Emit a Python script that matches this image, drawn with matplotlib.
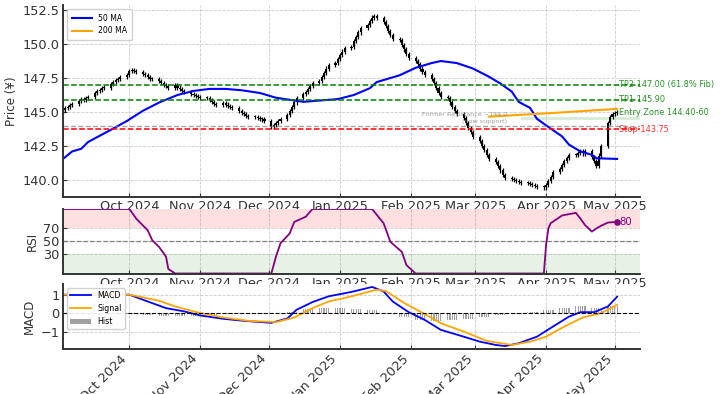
import matplotlib
matplotlib.use("Agg")
import matplotlib.pyplot as plt
import matplotlib.dates as mdates
import numpy as np
import pandas as pd

# ---------------------------------------------------------------------------
# Data
# ---------------------------------------------------------------------------
START, END = "2024-09-02", "2025-05-02"
FIRST_OPEN = 145.0

# daily closes, one row per week (Mon..Fri)
CLOSES = [
    145.15, 145.30, 145.35, 145.50, 145.60,
    145.80, 145.95, 145.90, 146.05, 146.10,
    146.40, 146.55, 146.60, 146.75, 146.80,
    147.05, 147.20, 147.35, 147.45, 147.60,
    147.70, 148.00, 148.10, 148.00, 147.95,
    147.80, 147.70, 147.55, 147.45, 147.40,
    147.25, 147.10, 147.00, 146.90, 146.80,
    146.95, 146.80, 146.70, 146.55, 146.45,
    146.35, 146.25, 146.20, 146.10, 146.00,
    146.05, 145.90, 145.75, 145.60, 145.50,
    145.65, 145.55, 145.45, 145.35, 145.30,
    145.10, 144.95, 144.85, 144.70, 144.60,
    144.60, 144.55, 144.50, 144.45, 144.35,
    143.90, 144.05, 144.20, 144.35, 144.50,
    144.80, 145.10, 145.40, 145.70, 146.00,
    146.30, 146.50, 146.70, 146.90, 147.10,
    147.30, 147.60, 147.90, 148.20, 148.45,
    148.60, 148.90, 149.20, 149.45, 149.70,
    149.80, 150.20, 150.50, 150.85, 151.15,
    151.40, 151.70, 151.95, 152.05, 151.90,
    151.60, 151.30, 150.95, 150.65, 150.35,
    150.30, 149.95, 149.60, 149.30, 149.00,
    148.75, 148.50, 148.20, 147.95, 147.70,
    147.45, 147.10, 146.75, 146.40, 146.10,
    146.00, 145.70, 145.40, 145.10, 144.85,
    144.55, 144.20, 143.85, 143.50, 143.15,
    142.85, 142.50, 142.20, 141.85, 141.55,
    141.30, 141.00, 140.70, 140.40, 140.15,
    140.05, 140.00, 139.90, 139.85, 139.80,
    139.75, 139.70, 139.60, 139.55, 139.50,
    139.45, 139.60, 139.90, 140.25, 140.60,
    140.80, 141.10, 141.40, 141.65, 141.85,
    141.85, 142.00, 142.10, 141.95, 142.15,
    141.70, 141.40, 141.00, 141.80, 142.50,
    144.20, 144.60, 144.85, 144.95, 145.00,
]
WICK = 0.15

MA50_DATES = ["2024-09-02", "2024-09-06", "2024-09-10", "2024-09-13", "2024-09-18",
              "2024-09-23", "2024-09-30", "2024-10-07", "2024-10-14", "2024-10-22",
              "2024-10-29", "2024-11-05", "2024-11-12", "2024-11-19", "2024-11-27",
              "2024-12-04", "2024-12-16", "2024-12-31", "2025-01-07", "2025-01-14",
              "2025-01-17", "2025-01-27", "2025-02-03", "2025-02-10", "2025-02-14",
              "2025-02-21", "2025-02-28", "2025-03-07", "2025-03-12", "2025-03-17",
              "2025-03-20", "2025-03-25", "2025-03-28", "2025-04-02", "2025-04-08",
              "2025-04-11", "2025-04-16", "2025-04-21", "2025-04-23", "2025-05-02"]
MA50 = [141.55, 142.10, 142.30, 142.80, 143.25,
        143.70, 144.35, 145.10, 145.70, 146.25,
        146.55, 146.70, 146.70, 146.60, 146.40,
        146.05, 145.75, 145.95, 146.25, 146.75,
        147.20, 147.70, 148.25, 148.60, 148.75,
        148.60, 148.20, 147.60, 147.10, 146.50,
        145.75, 145.30, 144.50, 143.90, 143.20,
        142.60, 142.10, 141.85, 141.60, 141.55]

MA200_DATES = ["2025-03-07", "2025-04-04", "2025-05-02"]
MA200 = [144.66, 144.93, 145.23]

TP2, TP1, STOP, FORMER_RES = 147.00, 145.90, 143.75, 144.00
ENTRY_LO, ENTRY_HI = 144.40, 144.60
ENTRY_FROM = "2025-03-21"

RSI_DATES = ["2024-09-02", "2024-10-01", "2024-10-04", "2024-10-09", "2024-10-11",
             "2024-10-14", "2024-10-17", "2024-10-18", "2024-10-21", "2024-12-02",
             "2024-12-04", "2024-12-06", "2024-12-10", "2024-12-12", "2024-12-17",
             "2024-12-20", "2025-01-15", "2025-01-20", "2025-01-23", "2025-01-28",
             "2025-01-30", "2025-02-03", "2025-03-31", "2025-04-01", "2025-04-02",
             "2025-04-03", "2025-04-08", "2025-04-14", "2025-04-16", "2025-04-18",
             "2025-04-21", "2025-04-23", "2025-04-25", "2025-04-28", "2025-05-02"]
RSI = [100, 100, 85, 67, 51.5,
       41, 26, 7, 0, 0,
       26, 47, 62, 80, 88,
       100, 100, 78, 49, 33.5,
       13, 0, 0, 45, 70,
       78, 90, 94, 85, 75,
       65, 70, 74, 79, 80]

MACD_DATES = ["2024-09-02", "2024-10-01", "2024-10-09", "2024-10-17", "2024-10-25",
              "2024-11-01", "2024-11-11", "2024-11-20", "2024-12-02", "2024-12-09",
              "2024-12-13", "2024-12-20", "2024-12-27", "2025-01-06", "2025-01-15",
              "2025-01-20", "2025-01-24", "2025-01-31", "2025-02-07", "2025-02-14",
              "2025-02-24", "2025-03-03", "2025-03-10", "2025-03-14", "2025-03-20",
              "2025-03-28", "2025-04-04", "2025-04-11", "2025-04-16", "2025-04-22",
              "2025-04-28", "2025-05-02"]
MACD = [1.0, 1.0, 0.63, 0.27, 0.09,
        -0.13, -0.31, -0.42, -0.53, -0.29,
        0.18, 0.60, 0.91, 1.15, 1.42,
        1.18, 0.63, 0.05, -0.37, -0.91,
        -1.28, -1.55, -1.73, -1.79, -1.64,
        -1.28, -0.73, -0.19, 0.05, 0.05,
        0.36, 0.89]

SIGNAL_DATES = ["2024-09-02", "2024-10-01", "2024-10-14", "2024-10-21", "2024-10-31",
                "2024-11-11", "2024-11-22", "2024-12-04", "2024-12-12", "2024-12-20",
                "2024-12-27", "2025-01-06", "2025-01-17", "2025-01-21", "2025-01-29",
                "2025-02-07", "2025-02-14", "2025-02-24", "2025-03-06", "2025-03-17",
                "2025-03-25", "2025-04-01", "2025-04-09", "2025-04-17", "2025-04-25",
                "2025-05-02"]
SIGNAL = [1.0, 1.0, 0.67, 0.36, 0.03,
          -0.24, -0.42, -0.49, -0.24, 0.27,
          0.63, 0.91, 1.27, 1.20, 0.55,
          -0.05, -0.55, -1.0, -1.51, -1.73,
          -1.55, -1.28, -0.73, -0.24, 0.0,
          0.45]

# histogram, one value per week
HIST_WEEKLY = [0.0, 0.0, 0.0, -0.01, -0.03,
               -0.08, -0.15, -0.18, -0.15, -0.10,
               -0.07, -0.05, -0.03, -0.01, 0.08,
               0.20, 0.25, 0.25, 0.22, 0.18,
               0.02, -0.20, -0.35, -0.42, -0.40,
               -0.30, -0.20, -0.12, -0.05, 0.05,
               0.15, 0.30, 0.40, 0.30, 0.40]

# ---------------------------------------------------------------------------
# Style helpers
# ---------------------------------------------------------------------------
W, H = 723, 394
SPINE = "#333333"


def style_axes(ax):
    for side in ("top", "right"):
        ax.spines[side].set_visible(False)
    for side in ("left", "bottom"):
        ax.spines[side].set_color(SPINE)
        ax.spines[side].set_linewidth(1.4)
    ax.grid(True, color="#cccccc", linestyle="--", linewidth=0.6)
    ax.set_axisbelow(True)
    ax.tick_params(axis="both", direction="in", length=3, width=0.8,
                   colors=SPINE, labelcolor="#333333", labelsize=9.3, pad=2.5)
    ax.xaxis.set_major_locator(mdates.MonthLocator())
    ax.xaxis.set_major_formatter(mdates.DateFormatter("%b %Y"))
    ax.set_xlim(pd.Timestamp(START), pd.Timestamp("2025-05-12"))


def px_axes(fig, left, top, right, bottom):
    return fig.add_axes([left / W, 1 - bottom / H, (right - left) / W, (bottom - top) / H])


# ---------------------------------------------------------------------------
# Build
# ---------------------------------------------------------------------------
days = pd.bdate_range(START, END)
closes = np.array(CLOSES)
opens = np.concatenate([[FIRST_OPEN], closes[:-1]])
body_lo = np.minimum(opens, closes)
body_hi = np.maximum(opens, closes)
body_h = np.maximum(body_hi - body_lo, 0.08)

fig = plt.figure(figsize=(W / 100, H / 100), dpi=100)
ax1 = px_axes(fig, 63, 5, 640, 197)
ax2 = px_axes(fig, 63, 209, 640, 273.5)
ax3 = px_axes(fig, 63, 284, 640, 349)
for ax in (ax1, ax2, ax3):
    style_axes(ax)

# --- price panel ---
ax1.vlines(days, body_lo - WICK, body_hi + WICK, color="black", linewidth=0.9)
ax1.bar(days, body_h, bottom=body_lo, width=0.9, color="black")
ax1.plot(pd.to_datetime(MA50_DATES), MA50, color="blue", linewidth=1.5, label="50 MA")
ax1.plot(pd.to_datetime(MA200_DATES), MA200, color="orange", linewidth=1.5, label="200 MA")

ax1.axhline(TP2, color="green", linestyle="--", linewidth=1.1)
ax1.axhline(TP1, color="green", linestyle="--", linewidth=1.1)
ax1.axhline(FORMER_RES, color="gray", linestyle="--", linewidth=1.0, alpha=0.7)
ax1.axhline(STOP, color="red", linestyle="--", linewidth=1.1)
ax1.fill_between([pd.Timestamp(ENTRY_FROM), pd.Timestamp("2025-05-12")],
                 ENTRY_LO, ENTRY_HI, color="green", alpha=0.15, linewidth=0)

tx = pd.Timestamp("2025-05-03")
lbl = dict(fontsize=5.9, va="center", ha="left", clip_on=False)
ax1.text(tx, TP2, f"TP2 {TP2:.2f} (61.8% Fib)", color="green", alpha=0.85, **lbl)
ax1.text(tx, TP1, f"TP1 {TP1:.2f}", color="green", alpha=0.85, **lbl)
ax1.text(tx, 144.95, f"Entry Zone {ENTRY_LO:.2f}-60", color="green", alpha=0.85, **lbl)
ax1.text(tx, STOP, f"Stop {STOP:.2f}", color="red", alpha=0.8, **lbl)
ax1.text(pd.Timestamp("2025-03-15"), 144.15, f"Former Resistance ~{FORMER_RES:.1f}\n(now support)",
         color="gray", alpha=0.75, fontsize=4.6, linespacing=1.4, ha="right", va="bottom")

ax1.set_ylim(138.75, 152.87)
ax1.yaxis.set_major_formatter(matplotlib.ticker.FormatStrFormatter("%.1f"))
ax1.set_ylabel("Price (¥)", fontsize=8.6, color="#333333", labelpad=3)
ax1.legend(loc="upper left", fontsize=5.6, handlelength=2.6, framealpha=0.9,
           edgecolor="#cccccc", borderpad=0.6)
ax1.set_title("USD/JPY Daily, Long Setup (Entry Key)", fontsize=10, pad=8, color="#333333")

# --- RSI panel ---
ax2.axhspan(70, 100, color="red", alpha=0.12, linewidth=0)
ax2.axhspan(0, 30, color="green", alpha=0.1, linewidth=0)
ax2.axhline(50, color="gray", linestyle="--", linewidth=0.9)
rsi_dates = pd.to_datetime(RSI_DATES)
ax2.plot(rsi_dates, RSI, color="purple", linewidth=1.3)
ax2.scatter([rsi_dates[-1]], [RSI[-1]], color="purple", s=14, zorder=5)
ax2.text(rsi_dates[-1] + pd.Timedelta(days=1), RSI[-1], f"{RSI[-1]:.0f}",
         color="purple", fontsize=7.3, va="center", ha="left")
ax2.set_ylim(0, 100)
ax2.set_yticks([30, 50, 70])
ax2.set_ylabel("RSI", fontsize=8.6, color="#333333", labelpad=3)

# --- MACD panel ---
hist = np.repeat(HIST_WEEKLY, 5)
ax3.bar(days, hist, width=0.5, color="gray", alpha=0.75, label="Hist")
ax3.plot(pd.to_datetime(MACD_DATES), MACD, color="blue", linewidth=1.3, label="MACD")
ax3.plot(pd.to_datetime(SIGNAL_DATES), SIGNAL, color="orange", linewidth=1.3, label="Signal")
ax3.axhline(0, color="black", linestyle="--", linewidth=0.8)
ax3.set_ylim(-1.95, 1.58)
ax3.set_yticks([-1, 0, 1])
ax3.set_ylabel("MACD", fontsize=8.6, color="#333333", labelpad=3)
h, l = ax3.get_legend_handles_labels()
order = [l.index("MACD"), l.index("Signal"), l.index("Hist")]
ax3.legend([h[i] for i in order], [l[i] for i in order], loc="upper left",
           fontsize=5.7, handlelength=2.6, framealpha=0.9, edgecolor="#cccccc")
for t in ax3.get_xticklabels():
    t.set_rotation(45)
    t.set_ha("right")

fig.savefig("out.png", dpi=100)
